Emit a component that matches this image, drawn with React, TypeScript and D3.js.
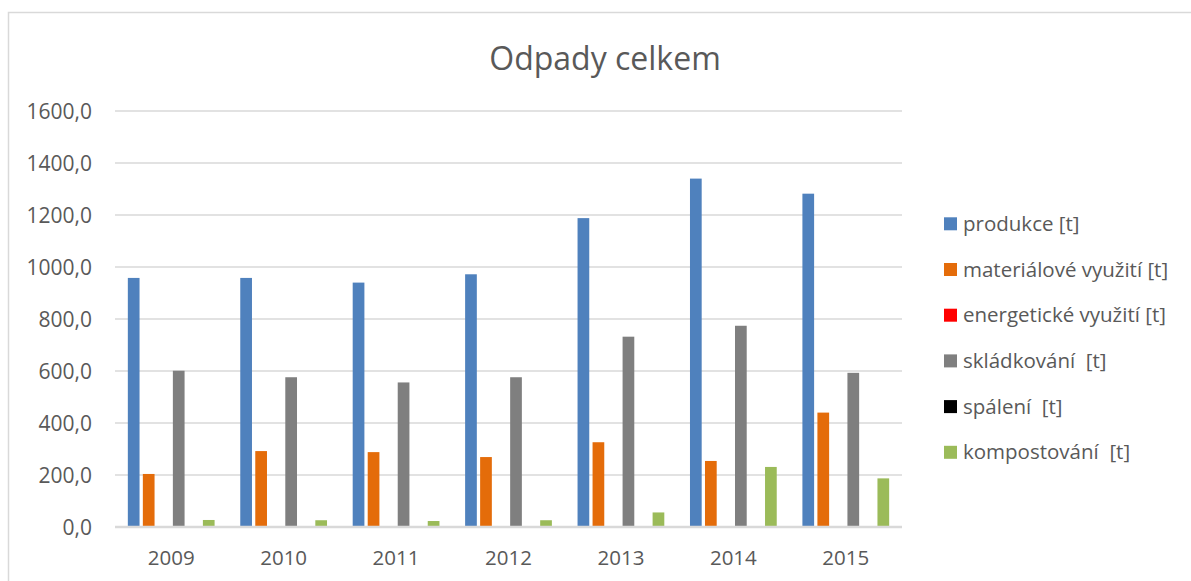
import React from "react";
import * as d3 from "d3";

const years = ["2009", "2010", "2011", "2012", "2013", "2014", "2015"];
const seriesNames = [
  "produkce [t]",
  "materiálové využití [t]",
  "energetické využití [t]",
  "skládkování  [t]",
  "spálení  [t]",
  "kompostování  [t]",
];
const seriesColors = ["#4F81BD", "#E46C0A", "#FF0000", "#7F7F7F", "#000000", "#9BBB59"];
const produkce = [958, 958, 940, 972, 1188, 1340, 1282];
const materialove = [204, 292, 288, 269, 326, 254, 440];
const energeticke = [0, 0, 0, 0, 0, 0, 0];
const skladkovani = [601, 576, 556, 576, 732, 774, 593];
const spaleni = [0, 0, 0, 0, 0, 0, 0];
const kompostovani = [27, 26, 23, 26, 56, 231, 187];
const yTicks = [0, 200, 400, 600, 800, 1000, 1200, 1400, 1600];

const seriesValues = [produkce, materialove, energeticke, skladkovani, spaleni, kompostovani];

const W = 1191;
const H = 581;
const FONT = "'Open Sans', 'Liberation Sans', sans-serif";
const TXT = "#595959";

export default function App() {
  const left = 115, right = 902, top = 111, bottom = 527;
  const x0 = d3.scaleBand<string>().domain(years).range([left, right]).padding(0);
  const x1 = d3
    .scaleBand<number>()
    .domain(d3.range(seriesNames.length))
    .range([0, x0.bandwidth()])
    .paddingInner(0.22)
    .paddingOuter(0.855);
  const y = d3.scaleLinear().domain([0, 1600]).range([bottom, top]);
  const fmt = (v: number) => d3.format(".1f")(v).replace(".", ",");

  return (
    <svg width={W} height={H} style={{ position: "absolute", left: 0, top: 0, background: "#fff" }}>
      <rect x={8.5} y={12.5} width={1300} height={700} fill="#fff" stroke="#D9D9D9" strokeWidth={1.5} />
      <text x={605} y={70} textAnchor="middle" fontFamily={FONT} fontSize={32} fill={TXT}>
        Odpady celkem
      </text>
      {yTicks.map((t) => (
        <g key={t}>
          {t !== 0 && (
            <line x1={left} x2={right} y1={y(t)} y2={y(t)} stroke="#D9D9D9" strokeWidth={1.5} />
          )}
          <text x={92} y={y(t) + 7.5} textAnchor="end" fontFamily={FONT} fontSize={21} fill={TXT}>
            {fmt(t)}
          </text>
        </g>
      ))}
      {years.map((yr, i) => (
        <g key={yr} transform={`translate(${x0(yr)},0)`}>
          {seriesValues.map((vals, s) => {
            const v = vals[i];
            if (v <= 0) return null;
            return (
              <rect
                key={s}
                x={x1(s)}
                y={y(v)}
                width={x1.bandwidth()}
                height={y(0) - y(v)}
                fill={seriesColors[s]}
              />
            );
          })}
          <text
            x={x0.bandwidth() / 2}
            y={565}
            textAnchor="middle"
            fontFamily={FONT}
            fontSize={20.5}
            fill={TXT}
          >
            {yr}
          </text>
        </g>
      ))}
      <line x1={left} x2={right} y1={y(0)} y2={y(0)} stroke="#D9D9D9" strokeWidth={2.5} />
      {seriesNames.map((name, s) => {
        const cy = 223.8 + s * 45.7;
        return (
          <g key={name}>
            <rect x={944} y={cy - 6.5} width={13} height={13} fill={seriesColors[s]} />
            <text
              x={963}
              y={cy + 7}
              fontFamily={FONT}
              fontSize={20.5}
              fill={TXT}
              style={{ whiteSpace: "pre" }}
            >
              {name}
            </text>
          </g>
        );
      })}
    </svg>
  );
}
